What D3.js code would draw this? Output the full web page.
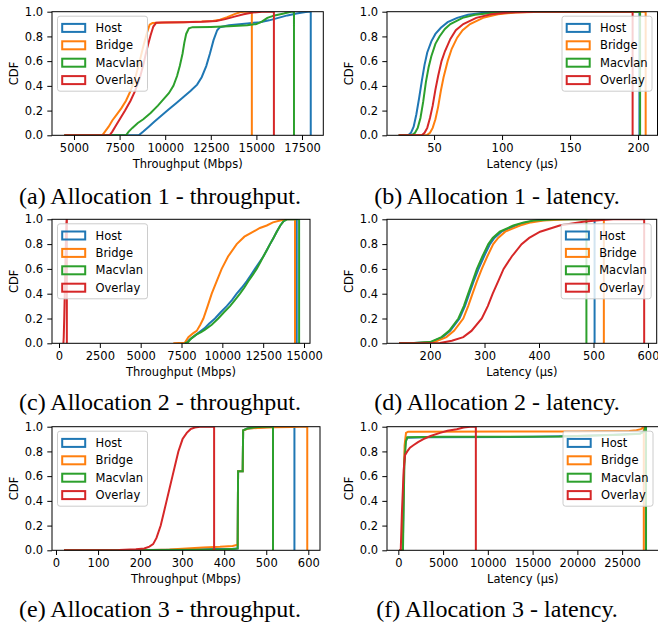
<!DOCTYPE html>
<html>
<head>
<meta charset="utf-8">
<script src="https://cdn.jsdelivr.net/npm/d3@7"></script>
<style>
  body { margin: 0; background: #fff; }
  svg text { font-family: "DejaVu Sans", sans-serif; fill: #000; }
  svg text.caption { font-family: "Liberation Serif", "Times New Roman", serif; }
</style>
</head>
<body>
<div id="chart"></div>
<script>
// ---- data ----
const seriesNames = ["Host", "Bridge", "Macvlan", "Overlay"];
const seriesColors = ["#1f77b4", "#ff7f0e", "#2ca02c", "#d62728"];

const captions = [
  "(a) Allocation 1 - throughput.", "(b) Allocation 1 - latency.",
  "(c) Allocation 2 - throughput.", "(d) Allocation 2 - latency.",
  "(e) Allocation 3 - throughput.", "(f) Allocation 3 - latency."
];
const xLabels = ["Throughput (Mbps)", "Latency (\u00b5s)", "Throughput (Mbps)",
                 "Latency (\u00b5s)", "Throughput (Mbps)", "Latency (\u00b5s)"];
const xTicks = [
  [5000, 7500, 10000, 12500, 15000, 17500],
  [50, 100, 150, 200],
  [0, 2500, 5000, 7500, 10000, 12500, 15000],
  [200, 300, 400, 500, 600],
  [0, 100, 200, 300, 400, 500, 600],
  [0, 5000, 10000, 15000, 20000, 25000]
];
const xLimits = [[3794, 18668], [15.4, 214.3], [-429, 15367], [121, 616], [-9.5, 627.8], [-1264, 29062]];
const yTicks = [0, 0.2, 0.4, 0.6, 0.8, 1.0];

// each series: [value, CDF] in order Host, Bridge, Macvlan, Overlay
const alloc1Throughput = [
  [[4470,0],[8550,0],[8800,0.03],[9100,0.07],[9400,0.11],[9800,0.16],[10200,0.21],[10600,0.26],[11000,0.31],[11400,0.36],[11750,0.41],[12000,0.47],[12250,0.56],[12450,0.66],[12650,0.77],[12850,0.85],[13000,0.875],[13500,0.89],[14500,0.905],[15200,0.915],[15700,0.93],[16200,0.95],[16700,0.97],[17200,0.985],[17700,0.997],[17850,1],[17980,1]],
  [[4470,0],[6550,0],[6700,0.03],[6900,0.07],[7100,0.12],[7350,0.17],[7600,0.22],[7850,0.28],[8100,0.36],[8350,0.46],[8600,0.6],[8800,0.72],[9000,0.83],[9150,0.895],[9300,0.908],[10000,0.912],[11000,0.915],[12000,0.92],[12600,0.925],[13000,0.935],[13400,0.955],[13800,0.98],[14100,0.995],[14300,1],[14750,1]],
  [[4470,0],[7850,0],[8000,0.03],[8200,0.06],[8500,0.1],[8800,0.13],[9200,0.18],[9600,0.24],[9900,0.29],[10200,0.34],[10450,0.4],[10650,0.48],[10800,0.56],[10950,0.66],[11050,0.75],[11150,0.82],[11300,0.865],[11500,0.875],[12500,0.877],[13500,0.882],[14500,0.89],[15000,0.9],[15300,0.92],[15600,0.95],[16000,0.97],[16500,0.985],[16900,1],[17060,1]],
  [[4470,0],[6950,0],[7100,0.03],[7300,0.08],[7550,0.14],[7800,0.2],[8100,0.28],[8350,0.36],[8600,0.46],[8800,0.57],[9000,0.7],[9200,0.81],[9350,0.88],[9500,0.91],[9800,0.913],[11000,0.915],[12000,0.918],[12800,0.925],[13300,0.94],[13800,0.96],[14300,0.98],[14800,0.993],[15300,1],[15960,1]]
];
const alloc1Latency = [
  [[24,0],[31,0],[33,0.02],[35,0.07],[37,0.17],[39,0.3],[41,0.44],[43,0.57],[45,0.67],[48,0.76],[51,0.82],[55,0.87],[60,0.915],[67,0.95],[75,0.975],[85,0.99],[100,0.997],[120,1],[201,1]],
  [[24,0],[44.5,0],[47,0.02],[49,0.06],[51,0.13],[53,0.23],[55,0.36],[57,0.47],[60,0.6],[63,0.7],[67,0.79],[71,0.85],[76.5,0.9],[86,0.95],[97,0.98],[110,0.993],[130,0.999],[150,1],[205.6,1]],
  [[24,0],[33.5,0],[36,0.02],[38,0.06],[40,0.14],[42,0.27],[44,0.43],[46,0.55],[48,0.64],[51,0.74],[54,0.8],[58,0.86],[62,0.9],[71,0.95],[80,0.975],[92,0.99],[110,0.998],[130,1],[201.5,1]],
  [[24,0],[41,0],[43,0.02],[45,0.06],[47,0.14],[49,0.24],[51,0.37],[53,0.48],[55.5,0.6],[58,0.68],[62,0.78],[66,0.85],[71.5,0.9],[81,0.95],[92,0.98],[105,0.993],[125,0.999],[145,1],[196,1]]
];
const alloc2Throughput = [
  [[7500,0],[7800,0.005],[8000,0.03],[8300,0.06],[8600,0.09],[8900,0.12],[9200,0.16],[9550,0.2],[9900,0.25],[10270,0.3],[10600,0.35],[10880,0.4],[11200,0.45],[11490,0.5],[11750,0.55],[12000,0.6],[12250,0.65],[12510,0.7],[12720,0.75],[12920,0.8],[13130,0.85],[13330,0.9],[13550,0.95],[13750,0.985],[13950,1],[14555,1]],
  [[7000,0],[7700,0.005],[7920,0.05],[8200,0.08],[8430,0.1],[8650,0.15],[8840,0.2],[9100,0.3],[9350,0.4],[9650,0.5],[9960,0.6],[10350,0.7],[10880,0.8],[11350,0.86],[11900,0.9],[12300,0.93],[12720,0.95],[13100,0.975],[13530,0.99],[13900,1],[14450,1]],
  [[7700,0],[7900,0.01],[8100,0.04],[8400,0.07],[8700,0.09],[8940,0.11],[9350,0.15],[9750,0.2],[10100,0.25],[10470,0.3],[10780,0.35],[11080,0.4],[11350,0.45],[11590,0.5],[11850,0.55],[12100,0.6],[12310,0.65],[12510,0.7],[12720,0.75],[12920,0.8],[13130,0.85],[13330,0.9],[13550,0.95],[13750,0.985],[13950,1],[14700,1]],
  [[270,0],[290,0.05],[320,0.2],[360,0.45],[400,0.7],[430,0.88],[455,0.97],[470,1],[480,1]]
];
const alloc2Latency = [
  [[143,0],[172,0.002],[202,0.01],[223,0.05],[237,0.1],[254,0.2],[264,0.3],[272,0.4],[280,0.5],[289,0.6],[299,0.7],[310,0.8],[318,0.85],[331,0.9],[357,0.95],[377,0.975],[396,0.99],[440,1],[502,1]],
  [[143,0],[180,0.002],[208,0.01],[230,0.05],[244,0.1],[261,0.2],[270,0.3],[278,0.4],[286,0.5],[295,0.6],[305,0.7],[316,0.8],[325,0.85],[338,0.9],[365,0.95],[385,0.975],[408,0.99],[455,1],[519,1]],
  [[143,0],[170,0.002],[200,0.01],[221,0.05],[235,0.1],[252,0.2],[262,0.3],[270,0.4],[278,0.5],[286,0.6],[296,0.7],[307,0.8],[315,0.85],[328,0.9],[353,0.95],[372,0.975],[390,0.99],[432,1],[487,1]],
  [[143,0],[218,0.002],[240,0.02],[261,0.05],[276,0.1],[295,0.2],[306,0.3],[315,0.4],[325,0.5],[335,0.6],[350,0.7],[368,0.8],[382,0.85],[402,0.9],[438,0.95],[481,0.98],[510,0.993],[536,1],[593,1]]
];
const alloc3Throughput = [
  [[19,0],[200,0.002],[300,0.005],[380,0.01],[420,0.012],[432,0.015],[433,0.64],[444,0.64],[445,0.97],[455,0.985],[470,0.99],[500,0.997],[540,1],[567,1]],
  [[19,0],[230,0.002],[270,0.006],[310,0.015],[350,0.022],[390,0.028],[420,0.035],[432,0.045],[433,0.64],[444,0.64],[445,0.97],[458,0.985],[480,0.99],[520,0.995],[560,0.998],[580,1],[597.5,1]],
  [[19,0],[250,0.002],[350,0.005],[400,0.008],[425,0.012],[432,0.015],[433,0.64],[444,0.64],[445,0.97],[455,0.985],[475,0.995],[490,1],[516,1]],
  [[19,0],[150,0.002],[190,0.008],[210,0.015],[222,0.03],[231,0.05],[239,0.1],[249,0.2],[256,0.3],[263,0.4],[270,0.5],[277,0.6],[284,0.7],[291,0.8],[301,0.9],[311,0.95],[320,0.98],[330,0.993],[342,1],[376,1]]
];
const alloc3Latency = [
  [[114,0],[500,0],[560,0.3],[650,0.7],[800,0.88],[1000,0.91],[3000,0.915],[15000,0.918],[20000,0.925],[24000,0.935],[27000,0.945],[27450,0.96],[27550,1],[27640,1]],
  [[114,0],[480,0],[560,0.4],[700,0.85],[860,0.95],[1100,0.96],[20000,0.962],[25800,0.965],[26600,0.972],[27100,0.98],[27300,0.99],[27350,1],[27420,1]],
  [[114,0],[520,0],[580,0.3],[680,0.7],[850,0.88],[1000,0.915],[5000,0.918],[18000,0.92],[22000,0.928],[25000,0.935],[27000,0.942],[27450,0.96],[27600,1],[27670,1]],
  [[114,0],[270,0],[400,0.3],[600,0.65],[750,0.77],[1000,0.8],[1300,0.83],[1680,0.85],[2200,0.875],[2800,0.9],[3600,0.925],[4660,0.95],[5500,0.967],[6530,0.98],[7300,0.993],[8020,1],[8660,1]]
];
const panelData = [alloc1Throughput, alloc1Latency, alloc2Throughput, alloc2Latency, alloc3Throughput, alloc3Latency];

// ---- layout ----
const W = 658, H = 628;
const panels = [
  {x0: 52,  x1: 323.3, y0: 11.7,  y1: 135.3, capX: 160, capY: 204, legend: "left"},
  {x0: 387, x1: 657.5, y0: 11.7,  y1: 135.3, capX: 497, capY: 204, legend: "right"},
  {x0: 52,  x1: 310,   y0: 219.3, y1: 343.3, capX: 160, capY: 410, legend: "left"},
  {x0: 387, x1: 656.7, y0: 219.3, y1: 343.3, capX: 497, capY: 410, legend: "right"},
  {x0: 52,  x1: 320,   y0: 426.7, y1: 550.3, capX: 160, capY: 617, legend: "left"},
  {x0: 387, x1: 658.5, y0: 426.7, y1: 550.3, capX: 497, capY: 617, legend: "right"}
];
const fs = 11.5;

const svg = d3.select("#chart").append("svg")
  .attr("width", W).attr("height", H);

panels.forEach((p, i) => {
  const x = d3.scaleLinear().domain(xLimits[i]).range([p.x0, p.x1]);
  const y = d3.scaleLinear().domain([0, 1]).range([p.y1, p.y0]);
  const g = svg.append("g");

  g.append("clipPath").attr("id", "clip" + i)
    .append("rect")
    .attr("x", p.x0).attr("y", p.y0)
    .attr("width", p.x1 - p.x0).attr("height", p.y1 - p.y0);

  const line = d3.line().x(d => x(d[0])).y(d => y(d[1]));

  // step-histogram style CDF: ends with a drop back to zero
  panelData[i].forEach((pts, k) => {
    const last = pts[pts.length - 1][0];
    g.append("path")
      .attr("d", line(pts.concat([[last, 0]])))
      .attr("clip-path", `url(#clip${i})`)
      .attr("fill", "none")
      .attr("stroke", seriesColors[k])
      .attr("stroke-width", 2)
      .attr("stroke-linejoin", "miter");
  });

  // spines
  g.append("rect")
    .attr("x", p.x0).attr("y", p.y0)
    .attr("width", p.x1 - p.x0).attr("height", p.y1 - p.y0)
    .attr("fill", "none").attr("stroke", "#000").attr("stroke-width", 1);

  const xAxis = g.append("g")
    .attr("transform", `translate(0,${p.y1})`)
    .call(d3.axisBottom(x).tickValues(xTicks[i]).tickFormat(d3.format("d"))
      .tickSize(4.7).tickPadding(3.6).tickSizeOuter(0));
  const yAxis = g.append("g")
    .attr("transform", `translate(${p.x0},0)`)
    .call(d3.axisLeft(y).tickValues(yTicks).tickFormat(d3.format(".1f"))
      .tickSize(4.7).tickPadding(4.2).tickSizeOuter(0));
  [xAxis, yAxis].forEach(a => {
    a.select(".domain").remove();
    a.selectAll("text").attr("font-size", fs).attr("font-family", "DejaVu Sans").attr("fill", "#000");
    a.selectAll("line").attr("stroke", "#000").attr("stroke-width", 1);
  });

  g.append("text")
    .attr("x", (p.x0 + p.x1) / 2).attr("y", p.y1 + 32.5)
    .attr("text-anchor", "middle").attr("font-size", fs)
    .text(xLabels[i]);

  g.append("text")
    .attr("transform", `translate(${p.x0 - 34.5},${(p.y0 + p.y1) / 2}) rotate(-90)`)
    .attr("text-anchor", "middle").attr("font-size", fs)
    .text("CDF");

  // legend
  const lw = 90, lh = 75;
  const lx = p.legend === "left" ? p.x0 + 5.5 : p.x1 - 5.5 - lw;
  const ly = p.y0 + 4.5;
  const leg = g.append("g").attr("transform", `translate(${lx},${ly})`);
  leg.append("rect")
    .attr("width", lw).attr("height", lh).attr("rx", 2.5)
    .attr("fill", "#fff").attr("fill-opacity", 0.8)
    .attr("stroke", "#cccccc").attr("stroke-width", 1);
  seriesNames.forEach((name, k) => {
    const cy = 11.7 + k * 17.4;
    leg.append("rect")
      .attr("x", 4.7).attr("y", cy - 4)
      .attr("width", 23).attr("height", 8)
      .attr("fill", "none").attr("stroke", seriesColors[k]).attr("stroke-width", 2);
    leg.append("text")
      .attr("x", 38).attr("y", cy).attr("dy", "0.36em")
      .attr("font-size", fs)
      .text(name);
  });

  svg.append("text")
    .attr("class", "caption")
    .attr("x", p.capX).attr("y", p.capY)
    .attr("text-anchor", "middle").attr("font-size", 24)
    .text(captions[i]);
});
</script>
</body>
</html>
